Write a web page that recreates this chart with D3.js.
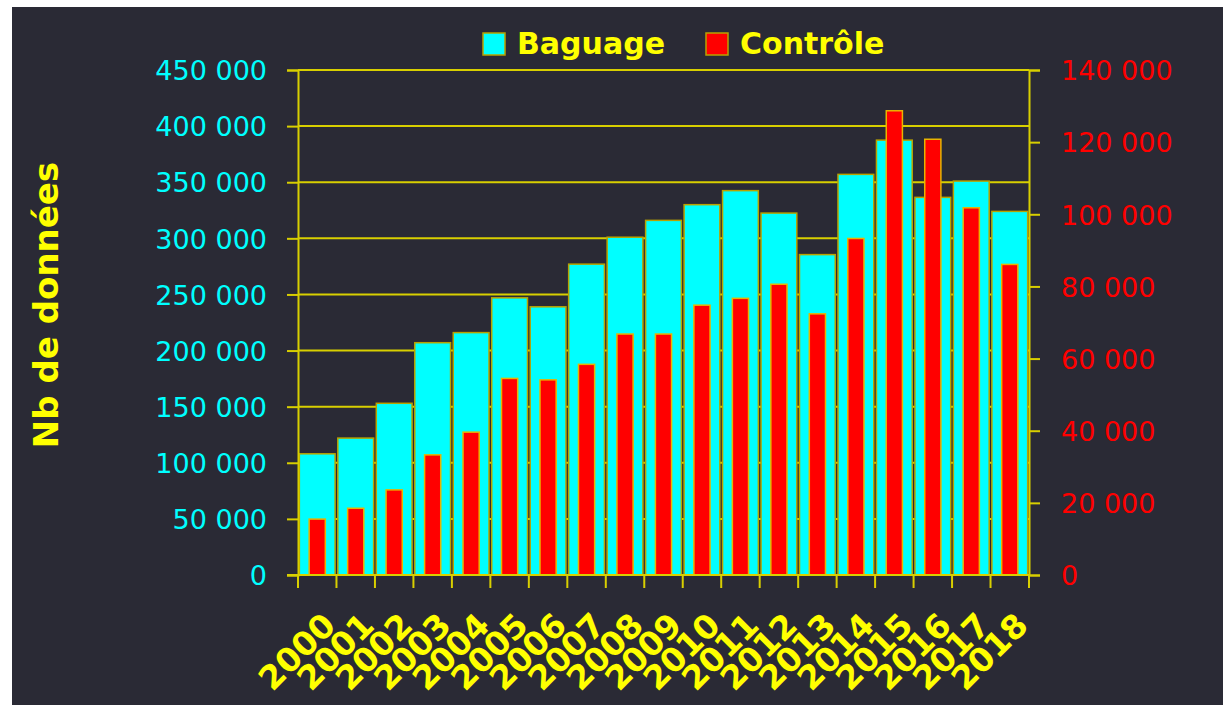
<!DOCTYPE html>
<html>
<head>
<meta charset="utf-8">
<script src="https://cdn.jsdelivr.net/npm/d3@7"></script>
<style>
  html, body { margin: 0; padding: 0; background: #ffffff; }
  svg { display: block; }
  .lbl { font-family: "Comic Sans MS", "DejaVu Sans", sans-serif; }
</style>
</head>
<body>
<div id="chart"></div>
<script>
// data
var years = ["2000","2001","2002","2003","2004","2005","2006","2007","2008","2009",
             "2010","2011","2012","2013","2014","2015","2016","2017","2018"];
var baguage = [108000,122000,153000,207000,216000,247000,239000,277000,301000,316000,
               330000,342500,322500,285500,357000,387500,336500,351000,324000];
var controle = [15500,18500,23600,33300,39600,54500,54100,58400,66800,66800,
                74800,76700,80600,72400,93300,128700,120800,101800,86100];
var leftTicks = [0,50000,100000,150000,200000,250000,300000,350000,400000,450000];
var rightTicks = [0,20000,40000,60000,80000,100000,120000,140000];
var seriesNames = ["Baguage","Contrôle"];
var seriesColors = ["#00ffff","#ff0000"];

var W = 1223, H = 705;
var plot = {left: 298, right: 1029, top: 70, bottom: 575};
var yellow = "#ffff00", grid = "#d8cf00", barEdge = "#b8a200";

var svg = d3.select("#chart").append("svg")
    .attr("width", W).attr("height", H);

// dark panel
svg.append("rect")
    .attr("x", 12).attr("y", 7)
    .attr("width", W - 12).attr("height", H - 7)
    .attr("fill", "#2a2a35");

var xs = d3.scaleBand().domain(years).range([plot.left, plot.right]).padding(0);
var step = xs.bandwidth();
var cyanW = step * 0.93, redW = step * 0.42;

var yL = d3.scaleLinear().domain([0, 450000]).range([plot.bottom, plot.top]);
var yR = d3.scaleLinear().domain([0, 140000]).range([plot.bottom, plot.top]);

var fmt = function(v){ return d3.format(",")(v).replace(/,/g, " "); };

// gridlines (behind bars)
svg.append("g").selectAll("line")
  .data(leftTicks.filter(function(d){ return d > 0; }))
  .enter().append("line")
    .attr("x1", plot.left).attr("x2", plot.right)
    .attr("y1", function(d){ return yL(d); })
    .attr("y2", function(d){ return yL(d); })
    .attr("stroke", grid).attr("stroke-width", 2);

// cyan bars
svg.append("g").selectAll("rect")
  .data(years)
  .enter().append("rect")
    .attr("x", function(d){ return xs(d) + (step - cyanW) / 2; })
    .attr("y", function(d, i){ return yL(baguage[i]); })
    .attr("width", cyanW)
    .attr("height", function(d, i){ return yL(0) - yL(baguage[i]); })
    .attr("fill", seriesColors[0])
    .attr("stroke", barEdge).attr("stroke-width", 1.5);

// red bars
svg.append("g").selectAll("rect")
  .data(years)
  .enter().append("rect")
    .attr("x", function(d){ return xs(d) + (step - redW) / 2; })
    .attr("y", function(d, i){ return yR(controle[i]); })
    .attr("width", redW)
    .attr("height", function(d, i){ return yR(0) - yR(controle[i]); })
    .attr("fill", seriesColors[1])
    .attr("stroke", "#e8b400").attr("stroke-width", 1.5);

// left axis
var gL = svg.append("g")
    .attr("transform", "translate(" + plot.left + ",0)")
    .call(d3.axisLeft(yL).tickValues(leftTicks).tickFormat(fmt).tickSize(11).tickPadding(20));
gL.select(".domain").attr("stroke", grid).attr("stroke-width", 2);
gL.selectAll(".tick line").attr("stroke", grid).attr("stroke-width", 2);
gL.selectAll(".tick text")
    .attr("class", "lbl")
    .attr("fill", "#00ffff")
    .style("font-size", "27px")
    .attr("dy", "0.36em");

// right axis
var gR = svg.append("g")
    .attr("transform", "translate(" + plot.right + ",0)")
    .call(d3.axisRight(yR).tickValues(rightTicks).tickFormat(fmt).tickSize(11).tickPadding(21));
gR.select(".domain").attr("stroke", grid).attr("stroke-width", 2);
gR.selectAll(".tick line").attr("stroke", grid).attr("stroke-width", 2);
gR.selectAll(".tick text")
    .attr("class", "lbl")
    .attr("fill", "#ff0000")
    .style("font-size", "27px")
    .attr("dy", "0.36em");

// bottom axis: ticks at category boundaries
var bounds = years.map(function(d){ return xs(d); }).concat([plot.right]);
svg.append("line")
    .attr("x1", plot.left - 11).attr("x2", plot.right)
    .attr("y1", plot.bottom).attr("y2", plot.bottom)
    .attr("stroke", grid).attr("stroke-width", 2);
svg.append("g").selectAll("line")
  .data(bounds)
  .enter().append("line")
    .attr("x1", function(d){ return d; }).attr("x2", function(d){ return d; })
    .attr("y1", plot.bottom).attr("y2", plot.bottom + 13)
    .attr("stroke", grid).attr("stroke-width", 2);

// year labels
svg.append("g").selectAll("text")
  .data(years)
  .enter().append("text")
    .attr("class", "lbl")
    .attr("transform", function(d){
      return "translate(" + (xs(d) + step / 2 + 4) + "," + (plot.bottom + 36) + ") rotate(-45)";
    })
    .attr("text-anchor", "end")
    .attr("dy", "0.7em")
    .attr("fill", yellow)
    .style("font-size", "33px")
    .style("font-weight", "bold")
    .text(function(d){ return d; });

// y title
svg.append("text")
    .attr("class", "lbl")
    .attr("transform", "translate(58,305) rotate(-90)")
    .attr("text-anchor", "middle")
    .attr("fill", yellow)
    .style("font-size", "34px")
    .style("font-weight", "bold")
    .text("Nb de données");

// legend
var legendX = [483, 706];
var lg = svg.append("g").selectAll("g")
  .data(seriesNames)
  .enter().append("g")
    .attr("transform", function(d, i){ return "translate(" + legendX[i] + ",33)"; });
lg.append("rect")
    .attr("width", 22).attr("height", 22)
    .attr("fill", function(d, i){ return seriesColors[i]; })
    .attr("stroke", barEdge).attr("stroke-width", 1.5);
lg.append("text")
    .attr("class", "lbl")
    .attr("x", 34).attr("y", 21)
    .attr("fill", yellow)
    .style("font-size", "30px")
    .style("font-weight", "bold")
    .text(function(d){ return d; });
</script>
</body>
</html>
